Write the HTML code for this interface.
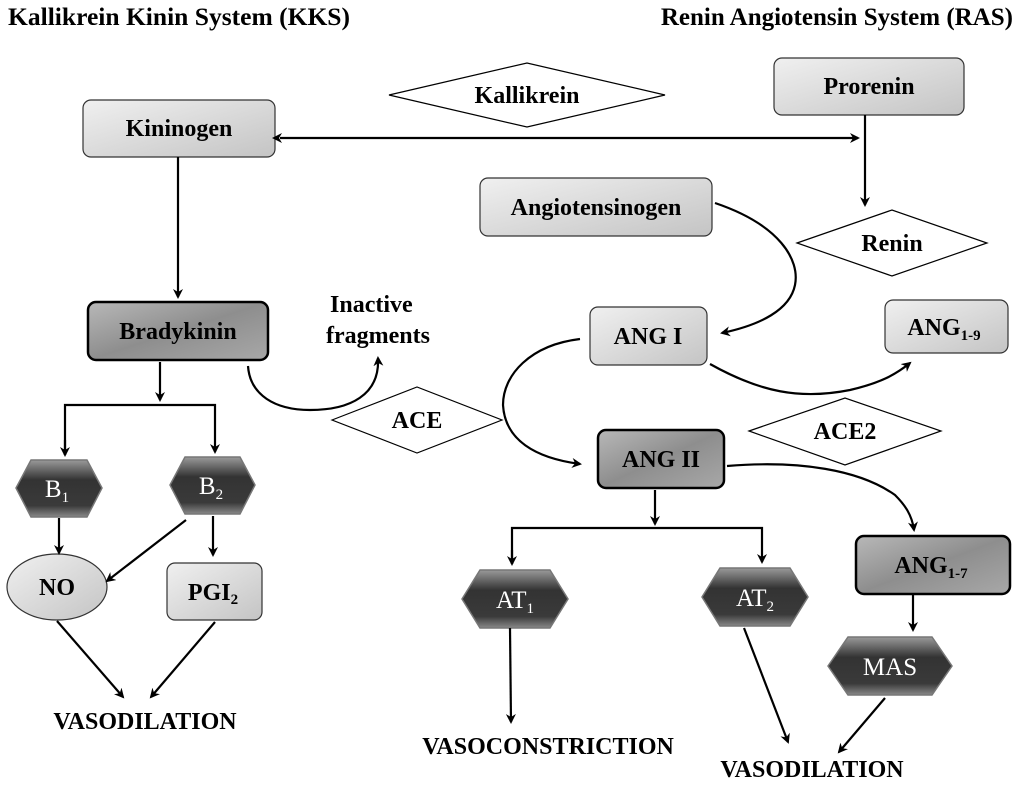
<!DOCTYPE html>
<html><head><meta charset="utf-8"><style>
html,body{margin:0;padding:0;background:#fff;}
svg{display:block;}
text{font-family:"Liberation Serif",serif;}
</style></head><body>
<svg width="1024" height="786" viewBox="0 0 1024 786" xmlns="http://www.w3.org/2000/svg">
<defs>
<linearGradient id="lg" x1="0" y1="0" x2="1" y2="1"><stop offset="0" stop-color="#f0f0f0"/><stop offset="1" stop-color="#c4c4c4"/></linearGradient>
<linearGradient id="dg" x1="0" y1="0" x2="1" y2="1"><stop offset="0" stop-color="#b8b8b8"/><stop offset="0.5" stop-color="#8e8e8e"/><stop offset="1" stop-color="#a8a8a8"/></linearGradient>
<linearGradient id="hg" x1="0" y1="0" x2="0" y2="1"><stop offset="0" stop-color="#9a9a9a"/><stop offset="0.35" stop-color="#333"/><stop offset="0.8" stop-color="#3a3a3a"/><stop offset="1" stop-color="#888"/></linearGradient>
<marker id="ah" markerWidth="10" markerHeight="10" refX="8" refY="5" orient="auto" markerUnits="userSpaceOnUse"><path d="M0,0 L10,5 L0,10 L3,5 z" fill="#000"/></marker>
<marker id="ahs" markerWidth="10" markerHeight="10" refX="2" refY="5" orient="auto-start-reverse" markerUnits="userSpaceOnUse"><path d="M0,0 L10,5 L0,10 L3,5 z" fill="#000"/></marker>
</defs>

<text x="8" y="25" font-size="25" font-weight="bold" textLength="342" lengthAdjust="spacingAndGlyphs">Kallikrein Kinin System (KKS)</text>
<text x="1013" y="25" font-size="25" font-weight="bold" text-anchor="end">Renin Angiotensin System (RAS)</text>

<g fill="#fff" stroke="#000" stroke-width="1.2">
<polygon points="389,95 527,63 665,95 527,127"/>
<polygon points="797,243 892,210 987,243 892,276"/>
<polygon points="332,420 417,387 502,420 417,453"/>
<polygon points="749,431 845,398 941,431 845,465"/>
</g>
<g font-size="24" font-weight="bold" text-anchor="middle">
<text x="527" y="103">Kallikrein</text>
<text x="892" y="251">Renin</text>
<text x="417" y="428">ACE</text>
<text x="845" y="439">ACE2</text>
</g>

<g fill="url(#lg)" stroke="#333" stroke-width="1.2">
<rect x="83" y="100" width="192" height="57" rx="8"/>
<rect x="774" y="58" width="190" height="57" rx="8"/>
<rect x="480" y="178" width="232" height="58" rx="8"/>
<rect x="590" y="307" width="117" height="58" rx="8"/>
<rect x="885" y="300" width="123" height="53" rx="8"/>
<rect x="167" y="563" width="95" height="57" rx="8"/>
<ellipse cx="57" cy="587" rx="50" ry="33"/>
</g>
<g fill="url(#dg)" stroke="#000" stroke-width="2.5">
<rect x="88" y="302" width="180" height="58" rx="8"/>
<rect x="598" y="430" width="126" height="58" rx="8"/>
<rect x="856" y="536" width="154" height="58" rx="8"/>
</g>
<g font-size="24" font-weight="bold" text-anchor="middle">
<text x="179" y="136">Kininogen</text>
<text x="869" y="94">Prorenin</text>
<text x="596" y="215">Angiotensinogen</text>
<text x="648" y="344">ANG I</text>
<text x="944" y="335">ANG<tspan font-size="15" dy="5">1-9</tspan></text>
<text x="213" y="600">PGI<tspan font-size="15" dy="4">2</tspan></text>
<text x="57" y="595">NO</text>
<text x="178" y="339">Bradykinin</text>
<text x="661" y="467">ANG II</text>
<text x="931" y="573">ANG<tspan font-size="15" dy="5">1-7</tspan></text>
</g>

<g fill="url(#hg)" stroke="#777" stroke-width="1.5">
<polygon points="16,488 31,460 87,460 102,488 87,517 31,517"/>
<polygon points="170,485 185,457 240,457 255,485 240,514 185,514"/>
<polygon points="462,599 480,570 550,570 568,599 550,628 480,628"/>
<polygon points="702,597 720,568 790,568 808,597 790,626 720,626"/>
<polygon points="828,666 848,637 932,637 952,666 932,695 848,695"/>
</g>
<g font-size="25" fill="#fff" text-anchor="middle">
<text x="57" y="497">B<tspan font-size="15" dy="5">1</tspan></text>
<text x="211" y="494">B<tspan font-size="15" dy="5">2</tspan></text>
<text x="515" y="608">AT<tspan font-size="15" dy="5">1</tspan></text>
<text x="755" y="606">AT<tspan font-size="15" dy="5">2</tspan></text>
<text x="890" y="675">MAS</text>
</g>

<text x="330" y="312" font-size="24" font-weight="bold">Inactive</text>
<text x="326" y="343" font-size="24" font-weight="bold">fragments</text>

<g font-size="24" font-weight="bold" text-anchor="middle">
<text x="145" y="729">VASODILATION</text>
<text x="548" y="754">VASOCONSTRICTION</text>
<text x="812" y="777">VASODILATION</text>
</g>

<g stroke="#000" stroke-width="2.2" fill="none">
<line x1="280" y1="138" x2="858" y2="138" marker-start="url(#ahs)" marker-end="url(#ah)"/>
<line x1="865" y1="115" x2="865" y2="205" marker-end="url(#ah)"/>
<line x1="178" y1="157" x2="178" y2="297" marker-end="url(#ah)"/>
<line x1="160" y1="362" x2="160" y2="400" marker-end="url(#ah)"/>
<polyline points="65,455 65,405 215,405 215,452" marker-end="url(#ah)"/>
<line x1="65" y1="440" x2="65" y2="455" marker-end="url(#ah)"/>
<line x1="59" y1="518" x2="59" y2="553" marker-end="url(#ah)"/>
<line x1="186" y1="520" x2="107" y2="581" marker-end="url(#ah)"/>
<line x1="213" y1="516" x2="213" y2="555" marker-end="url(#ah)"/>
<line x1="57" y1="621" x2="123" y2="697" marker-end="url(#ah)"/>
<line x1="215" y1="622" x2="151" y2="697" marker-end="url(#ah)"/>
<path d="M248,366 C250,395 275,410 310,410 C350,410 380,395 378,358" marker-end="url(#ah)"/>
<path d="M715,203 C780,225 800,260 795,285 C790,310 760,325 722,333" marker-end="url(#ah)"/>
<path d="M710,364 C760,392 800,400 850,390 C880,383 895,375 910,363" marker-end="url(#ah)"/>
<path d="M580,339 C530,345 503,375 503,405 C505,440 535,458 580,464" marker-end="url(#ah)"/>
<path d="M727,466 C800,460 860,470 895,495 C905,505 912,515 914,530" marker-end="url(#ah)"/>
<line x1="655" y1="490" x2="655" y2="524" marker-end="url(#ah)"/>
<polyline points="512,564 512,528 762,528 762,562" marker-end="url(#ah)"/>
<line x1="512" y1="550" x2="512" y2="564" marker-end="url(#ah)"/>
<line x1="913" y1="595" x2="913" y2="630" marker-end="url(#ah)"/>
<line x1="510" y1="628" x2="511" y2="722" marker-end="url(#ah)"/>
<line x1="744" y1="628" x2="788" y2="742" marker-end="url(#ah)"/>
<line x1="885" y1="698" x2="839" y2="752" marker-end="url(#ah)"/>
</g>
</svg>
</body></html>
